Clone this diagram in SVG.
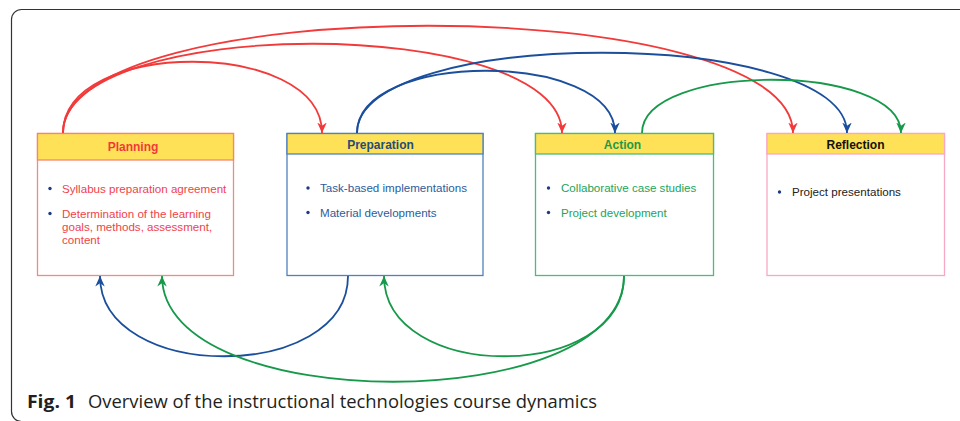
<svg xmlns="http://www.w3.org/2000/svg" width="960" height="421" viewBox="0 0 960 421">
  <style>
    .hdr { fill: #ffe158; stroke-width: 1.3; }
    .body { fill: #ffffff; stroke-width: 1.3; }
    .title { font-family: "Liberation Sans", Arial, sans-serif; font-size: 12px; font-weight: bold; text-anchor: middle; }
    .item { font-family: "Liberation Sans", Arial, sans-serif; font-size: 11.6px; }
    .dot { fill: #1f3b80; }
    .link { fill: none; stroke-width: 1.8; }
    .caption { font-family: "Open Sans", "Noto Sans", sans-serif; font-size: 18px; fill: #231f20; }
  </style>
  <defs>
    <marker id="head-red" viewBox="0 0 10 10" refX="10" refY="5" markerWidth="10.5" markerHeight="10.5" markerUnits="userSpaceOnUse" orient="auto">
      <path d="M0,0.5 L10,5 L0,9.5 L3,5 z" fill="#f23a3a"/>
    </marker>
    <marker id="head-blue" viewBox="0 0 10 10" refX="10" refY="5" markerWidth="10.5" markerHeight="10.5" markerUnits="userSpaceOnUse" orient="auto">
      <path d="M0,0.5 L10,5 L0,9.5 L3,5 z" fill="#1b4f9c"/>
    </marker>
    <marker id="head-green" viewBox="0 0 10 10" refX="10" refY="5" markerWidth="10.5" markerHeight="10.5" markerUnits="userSpaceOnUse" orient="auto">
      <path d="M0,0.5 L10,5 L0,9.5 L3,5 z" fill="#17994a"/>
    </marker>
  </defs>

  <rect width="960" height="421" fill="#ffffff"/>
  <!-- figure frame -->
  <rect x="11.5" y="9.5" width="1000" height="412" rx="10" fill="none" stroke="#333333" stroke-width="1.2"/>

  <!-- phase boxes -->
  <g id="planning">
    <rect class="body" x="37.5" y="133.5" width="196" height="142" stroke="#f08a8a"/>
    <rect class="hdr" x="37.5" y="133.5" width="196" height="26.5" stroke="#f4866e"/>
    <text class="title" x="133" y="151" fill="#f23a3a">Planning</text>
    <circle class="dot" cx="50" cy="188.5" r="1.7"/>
    <text class="item" x="62" y="192.5" fill="#f0434a">Syllabus preparation agreement</text>
    <circle class="dot" cx="50" cy="213.5" r="1.7"/>
    <text class="item" fill="#f0434a"><tspan x="62" y="217.5">Determination of the learning</tspan><tspan x="62" y="230.5">goals, methods, assessment,</tspan><tspan x="62" y="243.5">content</tspan></text>
  </g>

  <g id="preparation">
    <rect class="body" x="287" y="133.5" width="196" height="142" stroke="#4f81bd"/>
    <rect class="hdr" x="287" y="133.5" width="196" height="20.5" stroke="#4f81bd"/>
    <text class="title" x="380.5" y="148.5" fill="#1f4e79">Preparation</text>
    <circle class="dot" cx="308" cy="188" r="1.7"/>
    <text class="item" x="320" y="192" fill="#2c5c9c">Task-based implementations</text>
    <circle class="dot" cx="308" cy="212.5" r="1.7"/>
    <text class="item" x="320" y="216.5" fill="#2c5c9c">Material developments</text>
  </g>

  <g id="action">
    <rect class="body" x="535.5" y="133.5" width="178" height="142" stroke="#4dbb7a"/>
    <rect class="hdr" x="535.5" y="133.5" width="178" height="20.5" stroke="#4dbb7a"/>
    <text class="title" x="622.5" y="148.5" fill="#1d9a48">Action</text>
    <circle class="dot" cx="548.5" cy="188" r="1.7"/>
    <text class="item" x="561" y="192" fill="#22a45a">Collaborative case studies</text>
    <circle class="dot" cx="548.5" cy="212.5" r="1.7"/>
    <text class="item" x="561" y="216.5" fill="#22a45a">Project development</text>
  </g>

  <g id="reflection">
    <rect class="body" x="767" y="133.5" width="177.5" height="142" stroke="#f7a8c4"/>
    <rect class="hdr" x="767" y="133.5" width="177.5" height="20.5" stroke="#f7a8c4"/>
    <text class="title" x="855.5" y="148.5" fill="#111111">Reflection</text>
    <circle class="dot" cx="779.5" cy="192" r="1.7"/>
    <text class="item" x="792" y="196" fill="#222222">Project presentations</text>
  </g>

  <!-- transitions between phases -->
  <g id="connectors">
    <path class="link" stroke="#f23a3a" marker-end="url(#head-red)" d="M63,133 C63,38 322,38 322,133"/>
    <path class="link" stroke="#f23a3a" marker-end="url(#head-red)" d="M63,133 C63,14 562,14 562,133"/>
    <path class="link" stroke="#f23a3a" marker-end="url(#head-red)" d="M63,133 C63,-10 793,-10 793,133"/>
    <path class="link" stroke="#1b4f9c" marker-end="url(#head-blue)" d="M357,133 C357,50 615,50 615,133"/>
    <path class="link" stroke="#1b4f9c" marker-end="url(#head-blue)" d="M357,133 C357,26 847,26 847,133"/>
    <path class="link" stroke="#17994a" marker-end="url(#head-green)" d="M642,133 C642,62 901,62 901,133"/>
    <path class="link" stroke="#1b4f9c" marker-end="url(#head-blue)" d="M348,276 C348,383 100,383 100,276"/>
    <path class="link" stroke="#17994a" marker-end="url(#head-green)" d="M624,276 C624,383 384,383 384,276"/>
    <path class="link" stroke="#17994a" marker-end="url(#head-green)" d="M624,276 C624,417 162,417 162,276"/>
  </g>

  <text class="caption" x="27" y="408"><tspan font-weight="bold" textLength="49" lengthAdjust="spacingAndGlyphs">Fig. 1</tspan><tspan x="88" textLength="509" lengthAdjust="spacingAndGlyphs">Overview of the instructional technologies course dynamics</tspan></text>
</svg>
